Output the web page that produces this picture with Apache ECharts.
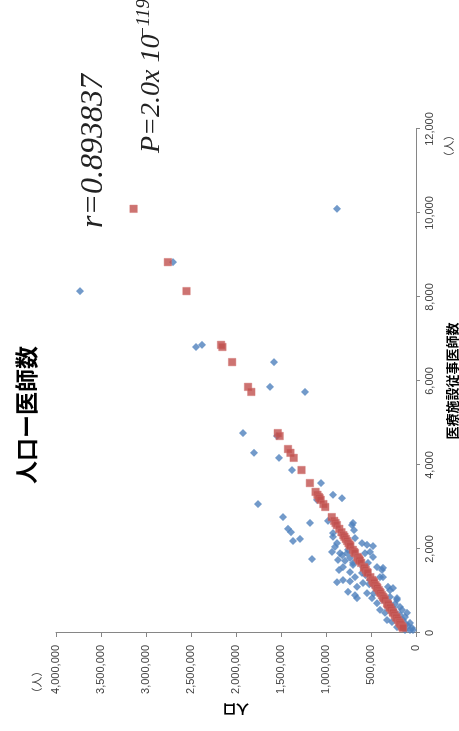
<!DOCTYPE html>
<html>
<head>
<meta charset="utf-8">
<script src="https://cdn.jsdelivr.net/npm/echarts@6/dist/echarts.min.js"></script>
<style>
html, body { margin: 0; padding: 0; background: #fff; overflow: hidden; width: 459px; height: 731px; }
/* chart is drawn landscape, then turned 90deg counter-clockwise like the scan */
#main { position: absolute; left: 0; top: 0; width: 731px; height: 459px; transform-origin: 0 0; transform: translateY(731px) rotate(-90deg); }
</style>
</head>
<body>
<div id="main"></div>
<script>
// 医療施設従事医師数 (x) / 人口 (y) ― 実測値
var blueDoctors = [
    10100, 8140, 8830, 6810, 6860, 6450, 5860, 5740, 4760, 4690,
    4290, 4170, 3880, 3070, 3570, 3290, 3210, 3170, 2760, 2620,
    2670, 2480, 2400, 2190, 2240, 1760,
    2570, 2330, 2290, 2140, 1930, 1900, 1980, 1740, 1720, 1790,
    1570, 1670, 1210, 1260, 1230, 1100, 980, 900, 2140, 1900,
    1930, 1810, 1670, 1570, 1500, 1330, 1100, 860, 790, 620,
    600, 380, 240, 70, 70, 1190, 950, 830, 710, 550,
    480, 310, 260, 140, 1140, 1430, 1260, 1020, 790, 620,
    1570, 1740, 2380, 1900, 1500, 1450, 1330, 830, 2620, 2260,
    2100, 2070, 1550, 1330, 1020, 1070, 830, 550, 480, 120,
    430, 500, 310, 170, 360, 70, 210, 670, 790, 690,
    2050, 1850, 1620, 1380, 2450, 1160, 940
];
var bluePopulation = [
    878000, 3733000, 2700000, 2444000, 2378000, 1578000, 1622000, 1233000, 1922000, 1544000,
    1800000, 1522000, 1378000, 1756000, 1056000, 922000, 822000, 1100000, 1478000, 1178000,
    978000, 1422000, 1389000, 1367000, 1289000, 1156000,
    711000, 811000, 922000, 878000, 933000, 844000, 756000, 867000, 789000, 733000,
    811000, 700000, 878000, 811000, 733000, 656000, 756000, 678000, 600000, 567000,
    511000, 478000, 533000, 433000, 378000, 367000, 311000, 289000, 211000, 178000,
    256000, 122000, 67000, 33000, 122000, 589000, 544000, 489000, 433000, 400000,
    344000, 322000, 267000, 211000, 478000, 600000, 511000, 422000, 367000, 311000,
    589000, 622000, 922000, 767000, 856000, 733000, 678000, 656000, 700000, 678000,
    544000, 478000, 367000, 400000, 289000, 256000, 211000, 156000, 100000, 44000,
    178000, 233000, 144000, 89000, 200000, 67000, 111000, 278000, 333000, 233000,
    900000, 820000, 700000, 560000, 690000, 520000, 470000
];
// 回帰による推定値
var redDoctors = [
    10100, 8830, 8140, 6860, 6810, 6450, 5860, 5740, 4760, 4690,
    4380, 4290, 4170, 3880, 3570, 3360, 3290, 3240, 3210, 3170,
    3070, 3000, 2760, 2670, 2620, 2570, 2480, 2400, 2330, 2290,
    2240, 2190, 2140, 2100, 2070, 1980, 1930, 1900, 1810, 1790,
    1760, 1740, 1720, 1670, 1570, 1550, 1500, 1450, 1430, 1330,
    1260, 1230, 1210, 1190, 1140, 1100, 1070, 1020, 980, 950,
    900, 860, 830, 790, 710, 690, 670, 620, 600, 550,
    500, 480, 430, 380, 360, 310, 260, 240, 210, 170,
    140, 120
];
var redPopulation = [
    3138000, 2757000, 2550000, 2166000, 2151000, 2043000, 1866000, 1830000, 1536000, 1515000,
    1422000, 1395000, 1359000, 1272000, 1179000, 1116000, 1095000, 1080000, 1071000, 1059000,
    1029000, 1008000, 936000, 909000, 894000, 879000, 852000, 828000, 807000, 795000,
    780000, 765000, 750000, 738000, 729000, 702000, 687000, 678000, 651000, 645000,
    636000, 630000, 624000, 609000, 579000, 573000, 558000, 543000, 537000, 507000,
    486000, 477000, 471000, 465000, 450000, 438000, 429000, 414000, 402000, 393000,
    378000, 366000, 357000, 345000, 321000, 315000, 309000, 294000, 288000, 273000,
    258000, 252000, 237000, 222000, 216000, 201000, 186000, 180000, 171000, 159000,
    150000, 144000
];
var doctorTicks = [0, 2000, 4000, 6000, 8000, 10000, 12000];
var populationTicks = [0, 500000, 1000000, 1500000, 2000000, 2500000, 3000000, 3500000, 4000000];

function zip(xs, ys) {
    return xs.map(function (x, i) { return [x, ys[i]]; });
}
function fmt(v) {
    return v.toLocaleString('en-US');
}

var jp = '"Noto Sans CJK JP", sans-serif';
var labelStyle = { fontSize: 11, color: '#404040', fontFamily: '"Liberation Sans", sans-serif' };

var myChart = echarts.init(document.getElementById('main'), null, { renderer: 'canvas' });
myChart.setOption({
    animation: false,
    backgroundColor: '#fff',
    grid: { left: 98, right: 129, top: 56, bottom: 43 },
    xAxis: {
        type: 'value',
        min: doctorTicks[0],
        max: doctorTicks[doctorTicks.length - 1],
        interval: doctorTicks[1] - doctorTicks[0],
        axisLine: { show: true, lineStyle: { color: '#868686', width: 1 } },
        axisTick: { show: true, length: 4, lineStyle: { color: '#868686' } },
        axisLabel: Object.assign({ margin: 8, formatter: fmt }, labelStyle),
        splitLine: { show: false }
    },
    yAxis: {
        type: 'value',
        min: populationTicks[0],
        max: populationTicks[populationTicks.length - 1],
        interval: populationTicks[1] - populationTicks[0],
        axisLine: { show: true, lineStyle: { color: '#868686', width: 1 } },
        axisTick: { show: true, length: 4, lineStyle: { color: '#868686' } },
        axisLabel: Object.assign({ margin: 12, formatter: fmt }, labelStyle),
        splitLine: { show: false }
    },
    graphic: [
        {
            type: 'text', x: 316, y: 26,
            style: { text: '人口ー医師数', font: 'bold 23px ' + jp, fill: '#000',
                textAlign: 'center', textVerticalAlign: 'middle', align: 'center', verticalAlign: 'middle' }
        },
        {
            type: 'text', x: 503, y: 94,
            style: { text: 'r=0.893837', font: 'italic 32px "Liberation Serif", serif', fill: '#222',
                textAlign: 'left', textVerticalAlign: 'middle', align: 'left', verticalAlign: 'middle' }
        },
        {
            type: 'text', x: 578, y: 152,
            style: { text: 'P=2.0x 10', font: 'italic 28px "Liberation Serif", serif', fill: '#222',
                textAlign: 'left', textVerticalAlign: 'middle', align: 'left', verticalAlign: 'middle' }
        },
        {
            type: 'text', x: 692, y: 144,
            style: { text: '−119', font: 'italic 19px "Liberation Serif", serif', fill: '#222',
                textAlign: 'left', textVerticalAlign: 'middle', align: 'left', verticalAlign: 'middle' }
        },
        {
            type: 'text', x: 350, y: 452,
            style: { text: '医療施設従事医師数', font: 'bold 13px ' + jp, fill: '#000',
                textAlign: 'center', textVerticalAlign: 'middle', align: 'center', verticalAlign: 'middle' }
        },
        {
            type: 'text', x: 585, y: 449,
            style: { text: '（人）', font: '11px ' + jp, fill: '#404040',
                textAlign: 'center', textVerticalAlign: 'middle', align: 'center', verticalAlign: 'middle' }
        },
        {
            type: 'text', x: 21, y: 236, rotation: Math.PI / 2,
            style: { text: '人口', font: 'bold 13px ' + jp, fill: '#000',
                textAlign: 'center', textVerticalAlign: 'middle', align: 'center', verticalAlign: 'middle' }
        },
        {
            type: 'text', x: 49, y: 37,
            style: { text: '（人）', font: '11px ' + jp, fill: '#404040',
                textAlign: 'center', textVerticalAlign: 'middle', align: 'center', verticalAlign: 'middle' }
        }
    ],
    series: [
        {
            name: '実測',
            type: 'scatter',
            symbol: 'diamond',
            symbolSize: 8,
            itemStyle: { color: '#4F81BD' },
            data: zip(blueDoctors, bluePopulation)
        },
        {
            name: '推定',
            type: 'scatter',
            symbol: 'rect',
            symbolSize: 7.5,
            itemStyle: { color: '#C0504D', borderColor: '#D27370', borderWidth: 0.5 },
            data: zip(redDoctors, redPopulation)
        }
    ]
});
</script>
</body>
</html>
